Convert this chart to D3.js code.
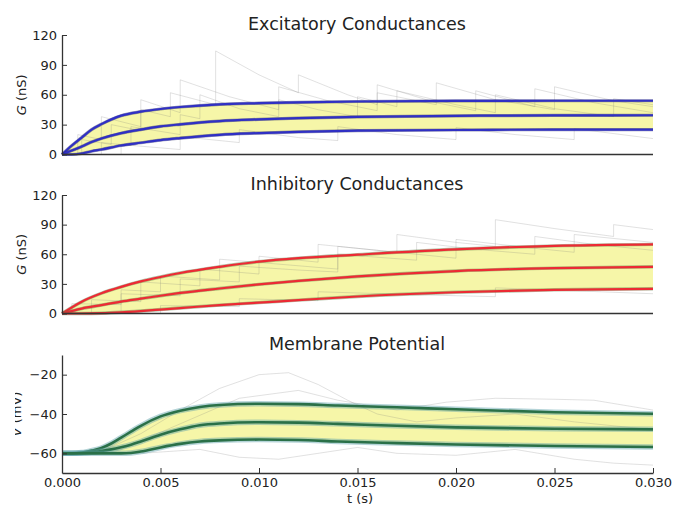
<!DOCTYPE html>
<html>
<head>
<meta charset="utf-8">
<script src="https://cdn.jsdelivr.net/npm/d3@7"></script>
<style>
  body { margin: 0; background: #fff; }
  text { font-family: "DejaVu Sans", sans-serif; fill: #222; }
</style>
</head>
<body>
<div id="chart"></div>
<script>
// ---- data (time in ms) ----
const tExc = [0, 0.5, 1, 1.5, 2, 3, 4, 5, 6, 8, 10, 12, 15, 20, 25, 30];
const excUpper = [0, 9, 17, 25, 30.5, 39, 43, 45.7, 47.7, 50.4, 51.5, 52.3, 53.2, 53.8, 54, 54];
const excMean  = [0, 4, 8, 12.5, 16, 21.4, 25, 28.2, 30.3, 33.6, 35.3, 36.5, 37.8, 38.8, 39.3, 39.4];
const excLower = [0, 0, 1, 3.3, 5, 9, 11.8, 14.5, 16.5, 19.8, 21.5, 22.8, 24, 24.6, 25, 25];

const tInh = [0, 1, 2, 3, 4, 5, 6, 8, 10, 12, 15, 20, 25, 30];
const inhUpper = [0, 12, 20.5, 27, 32.5, 37, 41, 47.3, 52.5, 56, 59.6, 65, 68.5, 70];
const inhMean  = [0, 5, 8.5, 12, 15, 18, 20.8, 25.3, 29.5, 33, 37.5, 43, 46, 47.3];
const inhLower = [0, 0, 0.3, 1.2, 2.5, 4, 5.5, 8.5, 11, 13.5, 17.2, 21.5, 24, 25];

const tVm = [0, 0.5, 1, 1.5, 2, 2.5, 3, 3.5, 4, 5, 6, 7, 8, 10, 12, 14, 17, 20, 25, 30];
const vmUpper = [-60, -60, -59.6, -58.6, -57.3, -55, -52, -49, -46, -41.2, -38.3, -36.4, -35.4, -34.8, -35, -35.7, -36.6, -37.6, -39.1, -39.9];
const vmMean  = [-60, -60, -59.8, -59.4, -58.8, -58, -56.9, -55.6, -54, -50.5, -47.8, -45.7, -44.8, -44.2, -44.4, -45, -46, -46.8, -47.5, -47.8];
const vmLower = [-60, -60, -60, -60, -60, -60, -60, -59.8, -59.1, -57, -55.2, -54, -53.4, -53, -53.2, -54, -54.8, -55.5, -56.3, -56.8];

// single-trial traces, [t ms, value]
const excTraces = [
  [[0,0],[1,0],[1,15],[2.5,10],[2.5,30],[4,24],[4,45],[5.5,38],[5.5,62],[7.8,50],[7.8,104],[10,80],[12,62],[12,80],[14.5,60],[16,50],[16,70],[19,52],[21,44],[21,64],[24,48],[24,66],[27,52],[30,42]],
  [[0,0],[2,0],[2,12],[3.5,9],[3.5,28],[6,20],[6,40],[7,36],[7,60],[9,46],[11,38],[11,55],[13,45],[15,38],[15,58],[17,48],[17,64],[20,50],[22,42],[22,60],[25,46],[28,38],[28,56],[30,50]],
  [[0,0],[3,0],[3,10],[6,5],[6,18],[9,12],[9,25],[12,17],[14,14],[14,28],[17,20],[20,15],[20,27],[23,20],[26,15],[26,26],[30,16]],
  [[0,0],[0.8,0],[0.8,20],[2,15],[2,38],[4,28],[4,55],[6,42],[6,75],[8.5,58],[11,45],[11,68],[13.5,54],[16,44],[16,62],[19,50],[19,72],[22,55],[25,45],[25,68],[28,54],[30,48]]
];
const inhTraces = [
  [[0,0],[1.5,0],[1.5,14],[4,12],[4,32],[7,28],[7,45],[10,40],[10,58],[13,52],[13,70],[17,62],[17,80],[20,72],[22,68],[22,95],[25,86],[28,78],[28,90],[30,85]],
  [[0,0],[3,0],[3,20],[6,18],[6,35],[9,32],[9,48],[12,44],[14,42],[14,60],[18,54],[18,72],[21,65],[24,60],[24,78],[27,70],[30,64]],
  [[0,0],[5,0],[5,8],[9,7],[9,15],[13,13],[13,22],[18,19],[22,17],[22,26],[26,23],[30,20]],
  [[0,0],[0.5,0],[0.5,10],[3,9],[3,24],[5,22],[5,38],[8,34],[8,55],[11,50],[14,45],[14,68],[17,62],[20,56],[20,75],[24,66],[26,62],[26,80],[30,72]]
];
const vmTraces = [
  [[0,-60],[2,-59],[4,-50],[6,-38],[8,-27],[10,-20],[11.5,-19],[13,-25],[14.5,-33],[16,-40],[18,-44],[20,-42],[23,-40],[26,-44],[30,-48]],
  [[0,-60],[3,-58],[6,-45],[9,-32],[12,-28],[14,-33],[17,-38],[19.5,-34],[22,-32],[25,-32.5],[27,-33],[30,-38]],
  [[0,-60],[4,-60],[7,-58],[9,-62],[11,-63],[13,-60],[15,-57],[17,-60],[20,-61],[23,-58],[26,-63],[28,-65],[30,-66]]
];

const condTicks = [0, 30, 60, 90, 120];
const vmTicks = [-60, -40, -20];
const timeTicks = [0, 0.005, 0.01, 0.015, 0.02, 0.025, 0.03];

// ---- layout ----
const width = 676, height = 508;
const svg = d3.select('#chart').append('svg')
  .attr('width', width)
  .attr('height', height);

const x = d3.scaleLinear().domain([0, 0.03]).range([62, 653]);

// clip for the cut-off V label (left edge of the original figure)
svg.append('clipPath').attr('id', 'vclip')
  .append('rect')
    .attr('x', 15).attr('y', 0).attr('width', 100).attr('height', height);

function drawPanel(cfg) {
  const y = d3.scaleLinear().domain(cfg.domain).range(cfg.range);
  const g = svg.append('g');

  // band between lower and upper
  const band = d3.area()
    .x(function (d, i) { return x(cfg.t[i] / 1000); })
    .y0(function (d, i) { return y(cfg.lower[i]); })
    .y1(function (d, i) { return y(cfg.upper[i]); })
    .curve(d3.curveMonotoneX);
  g.append('path')
    .attr('d', band(cfg.t))
    .attr('fill', '#f6f6a8');

  // single traces
  const traceLine = d3.line()
    .x(function (d) { return x(d[0] / 1000); })
    .y(function (d) { return y(d[1]); });
  g.selectAll('.trace')
    .data(cfg.traces)
    .enter()
    .append('path')
      .attr('class', 'trace')
      .attr('d', traceLine)
      .attr('fill', 'none')
      .attr('stroke', '#777')
      .attr('stroke-opacity', 0.28)
      .attr('stroke-width', 0.8);

  // mean and mean +/- std
  const line = d3.line()
    .x(function (d, i) { return x(cfg.t[i] / 1000); })
    .y(function (d) { return y(d); })
    .curve(d3.curveMonotoneX);
  [cfg.upper, cfg.mean, cfg.lower].forEach(function (s) {
    g.append('path')
      .attr('d', line(s))
      .attr('fill', 'none')
      .attr('stroke', cfg.halo)
      .attr('stroke-opacity', 0.45)
      .attr('stroke-width', cfg.haloWidth);
    g.append('path')
      .attr('d', line(s))
      .attr('fill', 'none')
      .attr('stroke', cfg.color)
      .attr('stroke-width', cfg.lineWidth);
  });

  // left spine with inward ticks
  const yAxis = g.append('g')
    .attr('transform', 'translate(62,0)')
    .call(d3.axisLeft(y).tickValues(cfg.ticks).tickSizeInner(-5).tickSizeOuter(0).tickPadding(5));
  yAxis.selectAll('text')
    .style('font-family', '"DejaVu Sans", sans-serif')
    .style('font-size', '13px')
    .attr('fill', '#222');
  yAxis.select('.domain').attr('stroke', '#333').attr('stroke-width', 1.3);
  yAxis.selectAll('.tick line').attr('stroke', '#333');

  // bottom spine
  if (cfg.xLabels) {
    const xAxis = g.append('g')
      .attr('transform', 'translate(0,' + cfg.range[0] + ')')
      .call(d3.axisBottom(x).tickValues(timeTicks).tickFormat(d3.format('.3f'))
        .tickSizeInner(-5).tickSizeOuter(0).tickPadding(5));
    xAxis.selectAll('text')
      .style('font-family', '"DejaVu Sans", sans-serif')
      .style('font-size', '13px')
      .attr('fill', '#222');
    xAxis.select('.domain').attr('stroke', '#333').attr('stroke-width', 1.3);
    xAxis.selectAll('.tick line').attr('stroke', '#333');
  } else {
    g.append('line')
      .attr('x1', x(0)).attr('x2', x(0.03))
      .attr('y1', y(0)).attr('y2', y(0))
      .attr('stroke', '#333')
      .attr('stroke-width', 1.3);
  }

  // title
  g.append('text')
    .attr('x', 357)
    .attr('y', cfg.titleY)
    .attr('text-anchor', 'middle')
    .style('font-size', '17.5px')
    .text(cfg.title);

  // y label
  const cy = (cfg.range[0] + cfg.range[1]) / 2;
  const labG = g.append('g');
  if (cfg.clip) labG.attr('clip-path', 'url(#' + cfg.clip + ')');
  const lab = labG.append('text')
    .attr('transform', 'translate(' + cfg.labelX + ',' + cy + ') rotate(-90)')
    .attr('text-anchor', 'middle')
    .style('font-size', '13px');
  lab.append('tspan').style('font-style', 'italic').text(cfg.labelVar);
  lab.append('tspan').text(cfg.labelUnit);
}

drawPanel({
  t: tExc, upper: excUpper, mean: excMean, lower: excLower, traces: excTraces,
  domain: [0, 120], range: [154.5, 35], ticks: condTicks,
  color: '#3030c4', halo: '#202060', lineWidth: 2.2, haloWidth: 3.2,
  title: 'Excitatory Conductances', titleY: 30,
  labelX: 26, labelVar: 'G', labelUnit: ' (nS)'
});

drawPanel({
  t: tInh, upper: inhUpper, mean: inhMean, lower: inhLower, traces: inhTraces,
  domain: [0, 120], range: [313.5, 195], ticks: condTicks,
  color: '#ec2a34', halo: '#5a7a40', lineWidth: 2.2, haloWidth: 3.4,
  title: 'Inhibitory Conductances', titleY: 190,
  labelX: 26, labelVar: 'G', labelUnit: ' (nS)'
});

drawPanel({
  t: tVm, upper: vmUpper, mean: vmMean, lower: vmLower, traces: vmTraces,
  domain: [-70, -10], range: [473, 355], ticks: vmTicks,
  color: '#2a7048', halo: '#5aa0a8', lineWidth: 2.6, haloWidth: 5.5,
  title: 'Membrane Potential', titleY: 350, xLabels: true,
  labelX: 21, labelVar: 'V', labelUnit: ' (mV)', clip: 'vclip'
});

// x label
svg.append('text')
  .attr('x', 360)
  .attr('y', 503)
  .attr('text-anchor', 'middle')
  .style('font-size', '13px')
  .text('t (s)');
</script>
</body>
</html>
